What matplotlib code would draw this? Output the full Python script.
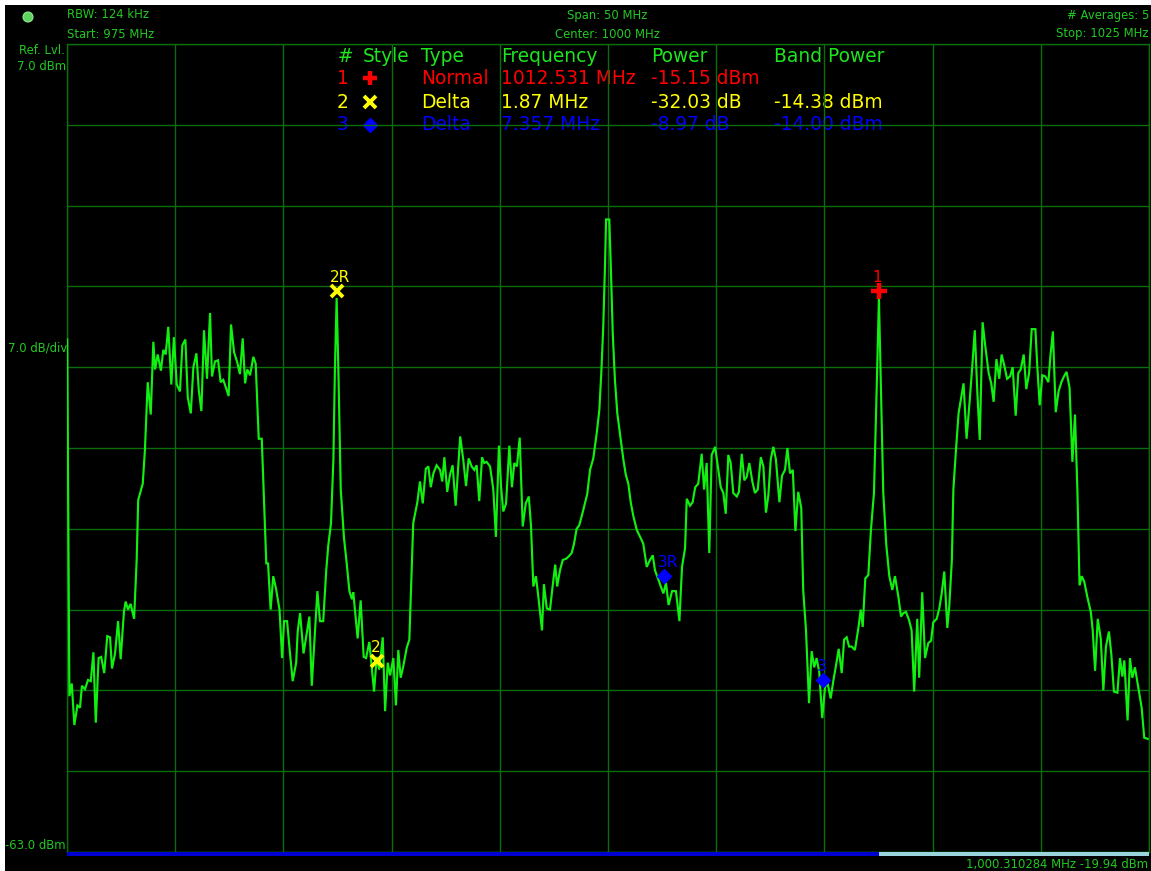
import matplotlib
matplotlib.use("Agg")
import matplotlib.pyplot as plt
from matplotlib.patches import Rectangle, Ellipse
import numpy as np

# ---------------- data ----------------
start_mhz, center_mhz, stop_mhz, span_mhz = 975, 1000, 1025, 50
rbw_khz = 124
averages = 5
ref_level_dbm = 7.0
db_per_div = 7.0
bottom_dbm = -63.0

freq_seg1 = [975.01, 975.11, 975.22, 975.34, 975.48, 975.60, 975.69, 975.83, 975.97, 976.10,
             976.22, 976.33, 976.46, 976.58, 976.72, 976.86, 976.99, 977.08, 977.22, 977.36,
             977.48, 977.63, 977.71, 977.82, 977.94, 978.10]
level_seg1 = [-18.6, -49.5, -48.4, -52.0, -50.3, -50.5, -48.6, -48.9, -48.1, -48.2,
              -45.7, -51.8, -46.2, -46.1, -47.5, -44.3, -44.4, -47.1, -45.8, -43.0,
              -46.3, -42.2, -41.3, -42.0, -41.5, -42.8]

freq_seg2 = [978.22, 978.29, 978.50, 978.60, 978.73, 978.87, 978.99, 979.07, 979.19, 979.34,
             979.45, 979.56, 979.68, 979.82, 979.94, 980.07, 980.22, 980.33, 980.47, 980.58,
             980.72, 980.84, 980.98, 981.09, 981.21, 981.33, 981.47, 981.61, 981.70, 981.84,
             981.98, 982.10, 982.22, 982.35, 982.47, 982.58, 982.72, 982.87, 982.99, 983.12,
             983.23, 983.33, 983.46, 983.61, 983.72, 983.86, 984.00]
level_seg2 = [-37.7, -32.5, -31.1, -28.2, -22.3, -25.1, -18.8, -21.2, -19.9, -21.3,
              -19.5, -19.9, -17.5, -22.5, -18.4, -22.5, -23.1, -19.1, -18.6, -23.6,
              -25.0, -21.0, -19.8, -23.0, -24.8, -17.8, -22.0, -16.3, -21.8, -20.5,
              -20.4, -22.3, -22.1, -22.8, -23.5, -17.3, -19.7, -20.6, -21.6, -18.5,
              -22.4, -21.2, -21.7, -20.1, -20.7, -27.2, -27.2]

freq_seg3 = [984.21, 984.29, 984.41, 984.53, 984.66, 984.82, 984.94, 985.03, 985.17, 985.31,
             985.43, 985.59, 985.66, 985.77, 985.93, 986.20, 986.31, 986.46, 986.57, 986.69,
             986.84, 986.98, 987.07, 987.20, 987.31, 987.38, 987.46, 987.54, 987.65, 987.80,
             987.92, 988.05, 988.17, 988.23, 988.43, 988.57, 988.71, 988.82, 988.97, 989.19,
             989.31, 989.43, 989.59, 989.70, 989.82, 989.93, 990.08, 990.20, 990.31, 990.42,
             990.54, 990.70, 990.82]
level_seg3 = [-38.0, -38.0, -42.0, -39.1, -40.2, -42.0, -46.2, -43.0, -43.0, -45.9,
              -48.2, -46.6, -43.9, -42.3, -45.8, -42.6, -48.6, -43.8, -40.4, -43.0,
              -43.0, -38.6, -36.5, -34.5, -29.0, -21.2, -15.0, -21.2, -31.6, -35.8,
              -37.9, -40.4, -41.1, -40.5, -44.5, -41.2, -46.1, -46.2, -44.8, -49.1,
              -46.1, -47.2, -44.4, -50.8, -46.6, -47.7, -46.2, -50.3, -45.5, -47.9,
              -46.9, -45.3, -44.6]

freq_seg4 = [991.00, 991.19, 991.31, 991.44, 991.58, 991.70, 991.81, 991.93, 992.08, 992.24,
             992.34, 992.44, 992.57, 992.70, 992.82, 992.96, 993.17, 993.31, 993.44, 993.56,
             993.70, 993.82, 993.93, 994.05, 994.18, 994.28, 994.39, 994.55, 994.70, 994.82,
             994.96, 995.06, 995.16, 995.29, 995.44, 995.56, 995.67, 995.79, 995.92, 996.06,
             996.20, 996.34, 996.44, 996.55, 996.67, 996.80, 996.95, 997.04, 997.17, 997.32,
             997.44, 997.56, 997.65, 997.78, 997.91, 998.06, 998.18, 998.32, 998.43, 998.55,
             998.67, 998.80, 998.92, 999.04, 999.17, 999.32, 999.48, 999.60, 999.69, 999.78,
             999.86, 999.91]
level_seg4 = [-34.5, -32.7, -30.9, -32.8, -29.8, -29.6, -31.4, -30.2, -29.5, -29.9,
              -30.9, -28.8, -31.8, -30.3, -29.5, -33.0, -27.0, -29.0, -31.3, -28.9,
              -29.6, -29.9, -29.5, -32.6, -28.8, -29.3, -29.2, -29.6, -31.6, -35.7,
              -27.8, -31.4, -33.5, -32.8, -27.8, -31.4, -29.3, -29.6, -27.1, -34.8,
              -32.8, -32.2, -34.7, -40.0, -39.1, -41.2, -43.8, -39.8, -41.9, -42.0,
              -40.0, -38.1, -40.0, -38.6, -37.7, -37.6, -37.4, -37.1, -36.3, -35.0,
              -34.7, -33.8, -32.9, -32.0, -29.9, -28.9, -26.7, -24.7, -21.5, -17.5,
              -12.3, -8.2]

freq_seg5 = [1000.06, 1000.13, 1000.22, 1000.32, 1000.43, 1000.59, 1000.71, 1000.82, 1000.94, 1001.05,
             1001.17, 1001.33, 1001.56, 1001.63, 1001.79, 1001.94, 1002.07, 1002.17, 1002.33, 1002.44,
             1002.56, 1002.68, 1002.80, 1002.96, 1003.14, 1003.30, 1003.42, 1003.56, 1003.64, 1003.79,
             1003.91, 1004.03, 1004.17, 1004.33, 1004.44, 1004.56, 1004.68, 1004.79, 1004.95, 1005.10,
             1005.21, 1005.33, 1005.44, 1005.56, 1005.67, 1005.79, 1005.95, 1006.05, 1006.18, 1006.30,
             1006.41, 1006.53, 1006.67, 1006.79, 1006.92, 1007.06, 1007.18, 1007.30, 1007.41, 1007.52,
             1007.64, 1007.76, 1007.92, 1008.04, 1008.18, 1008.29, 1008.41, 1008.54, 1008.66, 1008.79,
             1008.93]
level_seg5 = [-8.2, -12.3, -18.1, -22.1, -25.0, -27.3, -29.0, -30.3, -31.1, -32.7,
              -33.9, -35.1, -36.0, -36.3, -38.3, -37.7, -37.3, -38.6, -39.4, -40.0,
              -40.6, -39.7, -41.6, -40.4, -40.4, -43.0, -38.3, -36.7, -32.4, -33.0,
              -32.7, -31.4, -31.1, -28.5, -31.6, -29.3, -37.1, -28.6, -27.9, -29.9,
              -31.4, -31.9, -33.7, -28.6, -29.3, -31.9, -32.2, -31.8, -28.5, -30.8,
              -30.5, -29.3, -30.9, -31.9, -31.6, -28.8, -29.6, -33.6, -32.1, -29.0,
              -27.9, -29.0, -32.7, -30.4, -29.9, -28.0, -30.2, -29.9, -35.2, -31.8,
              -33.2]

freq_seg6 = [1009.02, 1009.15, 1009.29, 1009.41, 1009.53, 1009.64, 1009.76, 1009.90, 1010.03, 1010.15,
             1010.29, 1010.41, 1010.54, 1010.66, 1010.80, 1010.91, 1011.03, 1011.14, 1011.26, 1011.41,
             1011.57, 1011.68, 1011.77, 1011.89, 1012.03, 1012.15, 1012.29, 1012.41, 1012.52, 1012.62,
             1012.72, 1012.86, 1013.00, 1013.14, 1013.26, 1013.42, 1013.54, 1013.65, 1013.77, 1013.91,
             1014.03, 1014.15, 1014.29, 1014.38, 1014.52, 1014.65, 1014.80, 1014.93, 1015.03, 1015.19,
             1015.31, 1015.42, 1015.54, 1015.68, 1015.77]
level_seg6 = [-40.3, -43.8, -50.1, -45.6, -47.0, -46.2, -47.4, -51.4, -48.7, -48.4,
              -49.7, -48.2, -46.8, -45.4, -47.5, -44.6, -44.4, -45.2, -45.2, -45.5,
              -43.6, -42.0, -43.5, -39.3, -39.0, -35.1, -31.9, -23.3, -15.0, -23.3,
              -31.9, -36.4, -39.1, -40.3, -39.1, -40.9, -42.6, -42.3, -42.2, -42.9,
              -43.8, -49.1, -42.8, -47.9, -40.5, -46.2, -44.9, -44.7, -43.1, -42.8,
              -41.9, -40.6, -38.7, -43.6, -41.7]

freq_seg7 = [1015.89, 1015.96, 1016.09, 1016.20, 1016.43, 1016.57, 1016.71, 1016.83, 1016.95, 1017.07,
             1017.18, 1017.31, 1017.43, 1017.59, 1017.71, 1017.82, 1017.95, 1018.08, 1018.19, 1018.33,
             1018.44, 1018.58, 1018.70, 1018.84, 1018.96, 1019.07, 1019.21, 1019.33, 1019.46, 1019.58,
             1019.75, 1019.84, 1019.95, 1020.07, 1020.21, 1020.35, 1020.45, 1020.56, 1020.69, 1020.82,
             1020.95, 1021.07, 1021.19, 1021.33, 1021.46, 1021.58, 1021.69]
level_seg7 = [-37.7, -31.6, -27.9, -25.0, -22.4, -27.2, -24.0, -21.0, -17.8, -23.3,
              -27.3, -17.1, -19.1, -21.5, -22.4, -24.0, -20.3, -22.0, -19.9, -21.0,
              -22.0, -21.8, -21.0, -25.2, -21.5, -21.2, -19.9, -22.9, -21.5, -17.7,
              -17.7, -21.0, -24.3, -21.7, -21.8, -22.3, -19.9, -17.9, -24.9, -23.1,
              -22.3, -21.8, -21.4, -22.8, -29.2, -25.1, -31.6]

freq_seg8 = [1021.79, 1021.89, 1022.01, 1022.15, 1022.31, 1022.40, 1022.51, 1022.63, 1022.77, 1022.89,
             1023.01, 1023.15, 1023.26, 1023.38, 1023.54, 1023.66, 1023.77, 1023.86, 1024.01, 1024.12,
             1024.23, 1024.35, 1024.50, 1024.66, 1024.78, 1024.94]
level_seg8 = [-39.9, -39.1, -39.6, -40.9, -42.2, -43.8, -47.3, -42.8, -44.5, -49.0,
              -45.2, -43.9, -45.9, -49.1, -49.2, -46.2, -47.8, -46.4, -51.6, -46.2,
              -47.9, -47.0, -48.7, -50.5, -53.1, -53.2]

# markers (as drawn on the trace)
marker_labels = ["1", "2R", "2", "3R", "3"]
marker_freqs = [1012.531, 987.46, 989.33, 1002.59, 1009.947]
marker_levels = [-14.4, -14.4, -46.43, -39.1, -48.07]
marker_kinds = ["+", "x", "x", "D", "D"]

# marker table
table_header = ["#", "Style", "Type", "Frequency", "Power", "Band Power"]
table_ids = ["1", "2", "3"]
table_types = ["Normal", "Delta", "Delta"]
table_freqs = ["1012.531 MHz", "1.87 MHz", "7.357 MHz"]
table_powers = ["-15.15 dBm", "-32.03 dB", "-8.97 dB"]
table_band = ["", "-14.38 dBm", "-14.00 dBm"]

cursor_text = "1,000.310284 MHz -19.94 dBm"
sweep_fraction = 0.7505

# ---------------- style ----------------
W, H = 1151, 871
GRID = "#0b6e0b"
TXT = "#22c822"
TRACE = "#12f012"
HEAD = "#1ee61e"
COLS = {"+": "#ff0000", "x": "#ffff00", "D": "#0000ff"}
ROWCOL = ["#ff0000", "#ffff00", "#0000ff"]


def fx(px):
    return px / W


def fy(py):
    return 1 - py / H


fig = plt.figure(figsize=(W / 100, H / 100), dpi=100, facecolor="black")
fig.patches.append(Rectangle((0, fy(5)), 1, 1 - fy(5), transform=fig.transFigure,
                             facecolor="white", edgecolor="none", zorder=0))
fig.patches.append(Rectangle((0, 0), fx(5), 1, transform=fig.transFigure,
                             facecolor="white", edgecolor="none", zorder=0))

ax = fig.add_axes([fx(67), fy(852), fx(1149) - fx(67), fy(44) - fy(852)])
ax.set_facecolor("black")
ax.set_xlim(start_mhz, stop_mhz)
ax.set_ylim(bottom_dbm, ref_level_dbm)
ax.set_xticks(np.arange(start_mhz, stop_mhz + 0.1, span_mhz / 10))
ax.set_yticks(np.arange(bottom_dbm, ref_level_dbm + 0.1, db_per_div))
ax.set_axisbelow(False)
ax.grid(True, color=GRID, lw=1.0)
ax.tick_params(length=0, labelbottom=False, labelleft=False)
for s in ax.spines.values():
    s.set_color(GRID)
    s.set_linewidth(1.0)

freqs = np.concatenate([freq_seg1, freq_seg2, freq_seg3, freq_seg4,
                        freq_seg5, freq_seg6, freq_seg7, freq_seg8])
levels = np.concatenate([level_seg1, level_seg2, level_seg3, level_seg4,
                         level_seg5, level_seg6, level_seg7, level_seg8])
ax.plot(freqs, levels, color=TRACE, lw=1.55, zorder=3, solid_joinstyle="miter")

# markers on trace
msz = {"+": 11, "x": 8, "D": 7.5}
mew = {"+": 3.2, "x": 2.8, "D": 1}
for lab, f, l, k in zip(marker_labels, marker_freqs, marker_levels, marker_kinds):
    c = COLS[k]
    ax.plot([f], [l], marker=k, ms=msz[k], mew=mew[k], color=c, mfc=c, mec=c,
            ls="none", zorder=6, clip_on=False)
    ax.annotate(lab, (f, l), xytext=(-4.8, 9.5), textcoords="offset points",
                ha="left", va="center", color=c, fontsize=11, zorder=6)

# sweep bar
ax.add_patch(Rectangle((0, -0.0045), sweep_fraction, 0.0045, transform=ax.transAxes,
                       facecolor="#0000d0", edgecolor="none", clip_on=False, zorder=7))
ax.add_patch(Rectangle((sweep_fraction, -0.0045), 1 - sweep_fraction, 0.0045,
                       transform=ax.transAxes, facecolor="#9ad4dc", edgecolor="none",
                       clip_on=False, zorder=7))

# marker table
col_x = [338, 363, 421, 501, 651, 774]
row_y = [56, 78, 102, 125]
tfs = 13.4
for x, t in zip(col_x, table_header):
    ax.text(fx(x), fy(row_y[0]), t, transform=fig.transFigure, color=HEAD, fontsize=tfs,
            ha="left", va="center", zorder=1)
for i in range(3):
    c = ROWCOL[i]
    y = fy(row_y[i + 1])
    ax.text(fx(337), y, table_ids[i], transform=fig.transFigure, color=c, fontsize=tfs,
            ha="left", va="center", zorder=1)
    k = marker_kinds[[0, 1, 3][i]]
    ax.plot([fx(370)], [y], marker=k, ms={"+": 10, "x": 8, "D": 7.5}[k], mew=mew[k],
            color=c, mfc=c, mec=c, transform=fig.transFigure, clip_on=False, zorder=1)
    for x, t in zip(col_x[2:], [table_types[i], table_freqs[i], table_powers[i], table_band[i]]):
        ax.text(fx(x), y, t, transform=fig.transFigure, color=c, fontsize=tfs,
                ha="left", va="center", zorder=1)

# header / side labels
sfs = 8.4
fig.text(fx(67), fy(15), f"RBW: {rbw_khz} kHz", color=TXT, fontsize=sfs, ha="left", va="center")
fig.text(fx(67), fy(34), f"Start: {start_mhz} MHz", color=TXT, fontsize=sfs, ha="left", va="center")
fig.text(fx(607), fy(15), f"Span: {span_mhz} MHz", color=TXT, fontsize=sfs, ha="center", va="center")
fig.text(fx(607), fy(34), f"Center: {center_mhz} MHz", color=TXT, fontsize=sfs, ha="center", va="center")
fig.text(fx(1149), fy(15), f"# Averages: {averages}", color=TXT, fontsize=sfs, ha="right", va="center")
fig.text(fx(1149), fy(34), f"Stop: {stop_mhz} MHz", color=TXT, fontsize=sfs, ha="right", va="center")
fig.text(fx(65), fy(51), "Ref. Lvl.", color=TXT, fontsize=sfs, ha="right", va="center")
fig.text(fx(66), fy(67), f"{ref_level_dbm:.1f} dBm", color=TXT, fontsize=sfs, ha="right", va="center")
fig.text(fx(67), fy(348), f"{db_per_div:.1f} dB/div", color=TXT, fontsize=sfs, ha="right", va="center")
fig.text(fx(66), fy(845), f"{bottom_dbm:.1f} dBm", color=TXT, fontsize=sfs, ha="right", va="center")
fig.text(fx(1148), fy(864), cursor_text, color=TXT, fontsize=sfs, ha="right", va="center")

# status LED
fig.patches.append(Ellipse((fx(28), fy(17)), fx(10), 10 / H, transform=fig.transFigure,
                           facecolor="#5fd35f", edgecolor="#8fe88f", lw=0.8))

fig.savefig("out.png", dpi=100, facecolor="black")
